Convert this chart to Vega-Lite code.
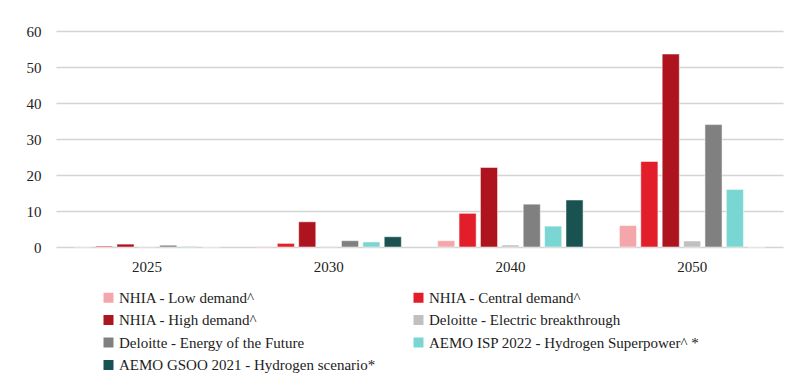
{
  "$schema": "https://vega.github.io/schema/vega-lite/v6.json",
  "autosize": "none",
  "width": 727,
  "height": 216,
  "padding": {"left": 56, "top": 31, "right": 15, "bottom": 132},
  "background": "white",
  "config": {
    "view": {"stroke": null},
    "font": "Liberation Serif"
  },
  "data": {
    "values": [
      {"year": "2025", "series": "NHIA - Low demand^", "value": 0.05},
      {"year": "2025", "series": "NHIA - Central demand^", "value": 0.25},
      {"year": "2025", "series": "NHIA - High demand^", "value": 0.8},
      {"year": "2025", "series": "Deloitte - Electric breakthrough", "value": 0.1},
      {"year": "2025", "series": "Deloitte - Energy of the Future", "value": 0.5},
      {"year": "2025", "series": "AEMO ISP 2022 - Hydrogen Superpower^ *", "value": 0.2},
      {"year": "2025", "series": "AEMO GSOO 2021 - Hydrogen scenario*", "value": 0},
      {"year": "2030", "series": "NHIA - Low demand^", "value": 0.15},
      {"year": "2030", "series": "NHIA - Central demand^", "value": 1.0},
      {"year": "2030", "series": "NHIA - High demand^", "value": 7.0},
      {"year": "2030", "series": "Deloitte - Electric breakthrough", "value": 0.15},
      {"year": "2030", "series": "Deloitte - Energy of the Future", "value": 1.75},
      {"year": "2030", "series": "AEMO ISP 2022 - Hydrogen Superpower^ *", "value": 1.4},
      {"year": "2030", "series": "AEMO GSOO 2021 - Hydrogen scenario*", "value": 2.85},
      {"year": "2040", "series": "NHIA - Low demand^", "value": 1.75},
      {"year": "2040", "series": "NHIA - Central demand^", "value": 9.35},
      {"year": "2040", "series": "NHIA - High demand^", "value": 22.1},
      {"year": "2040", "series": "Deloitte - Electric breakthrough", "value": 0.55},
      {"year": "2040", "series": "Deloitte - Energy of the Future", "value": 11.9},
      {"year": "2040", "series": "AEMO ISP 2022 - Hydrogen Superpower^ *", "value": 5.8},
      {"year": "2040", "series": "AEMO GSOO 2021 - Hydrogen scenario*", "value": 13.05},
      {"year": "2050", "series": "NHIA - Low demand^", "value": 5.95},
      {"year": "2050", "series": "NHIA - Central demand^", "value": 23.75},
      {"year": "2050", "series": "NHIA - High demand^", "value": 53.6},
      {"year": "2050", "series": "Deloitte - Electric breakthrough", "value": 1.67},
      {"year": "2050", "series": "Deloitte - Energy of the Future", "value": 34.0},
      {"year": "2050", "series": "AEMO ISP 2022 - Hydrogen Superpower^ *", "value": 16.0},
      {"year": "2050", "series": "AEMO GSOO 2021 - Hydrogen scenario*", "value": 0}
    ]
  },
  "mark": {"type": "bar", "stroke": "white", "strokeWidth": 0.5},
  "encoding": {
    "x": {
      "field": "year",
      "type": "nominal",
      "scale": {"paddingInner": 0.2, "paddingOuter": 0.1},
      "axis": {
        "title": null,
        "labelAngle": 0,
        "ticks": false,
        "domain": false,
        "labelPadding": 12,
        "labelFont": "Liberation Serif",
        "labelFontSize": 15,
        "labelColor": "#222222"
      }
    },
    "xOffset": {
      "field": "series",
      "type": "nominal",
      "sort": [
        "NHIA - Low demand^",
        "NHIA - Central demand^",
        "NHIA - High demand^",
        "Deloitte - Electric breakthrough",
        "Deloitte - Energy of the Future",
        "AEMO ISP 2022 - Hydrogen Superpower^ *",
        "AEMO GSOO 2021 - Hydrogen scenario*"
      ],
      "scale": {"paddingInner": 0.2, "paddingOuter": 0}
    },
    "y": {
      "field": "value",
      "type": "quantitative",
      "scale": {"domain": [0, 60]},
      "axis": {
        "title": null,
        "values": [0, 10, 20, 30, 40, 50, 60],
        "ticks": false,
        "domain": false,
        "labelPadding": 15,
        "labelFont": "Liberation Serif",
        "labelFontSize": 15,
        "labelColor": "#222222",
        "gridColor": "#d4d4d4",
        "gridWidth": 1.3
      }
    },
    "color": {
      "field": "series",
      "type": "nominal",
      "sort": [
        "NHIA - Low demand^",
        "NHIA - Central demand^",
        "NHIA - High demand^",
        "Deloitte - Electric breakthrough",
        "Deloitte - Energy of the Future",
        "AEMO ISP 2022 - Hydrogen Superpower^ *",
        "AEMO GSOO 2021 - Hydrogen scenario*"
      ],
      "scale": {
        "domain": [
          "NHIA - Low demand^",
          "NHIA - Central demand^",
          "NHIA - High demand^",
          "Deloitte - Electric breakthrough",
          "Deloitte - Energy of the Future",
          "AEMO ISP 2022 - Hydrogen Superpower^ *",
          "AEMO GSOO 2021 - Hydrogen scenario*"
        ],
        "range": ["#f4a6aa", "#e31e2b", "#ad141e", "#c0c0c0", "#808080", "#7ad6d2", "#1a5252"]
      },
      "legend": {
        "title": null,
        "orient": "none",
        "direction": "horizontal",
        "legendX": 45,
        "legendY": 259,
        "columns": 2,
        "gridAlign": "all",
        "columnPadding": 21,
        "rowPadding": 6.5,
        "padding": 0,
        "symbolType": "square",
        "symbolSize": 100,
        "symbolStrokeWidth": 0,
        "symbolOffset": 0,
        "labelOffset": 3,
        "labelFont": "Liberation Serif",
        "labelFontSize": 15,
        "labelColor": "#222222",
        "labelLimit": 400
      }
    }
  }
}
